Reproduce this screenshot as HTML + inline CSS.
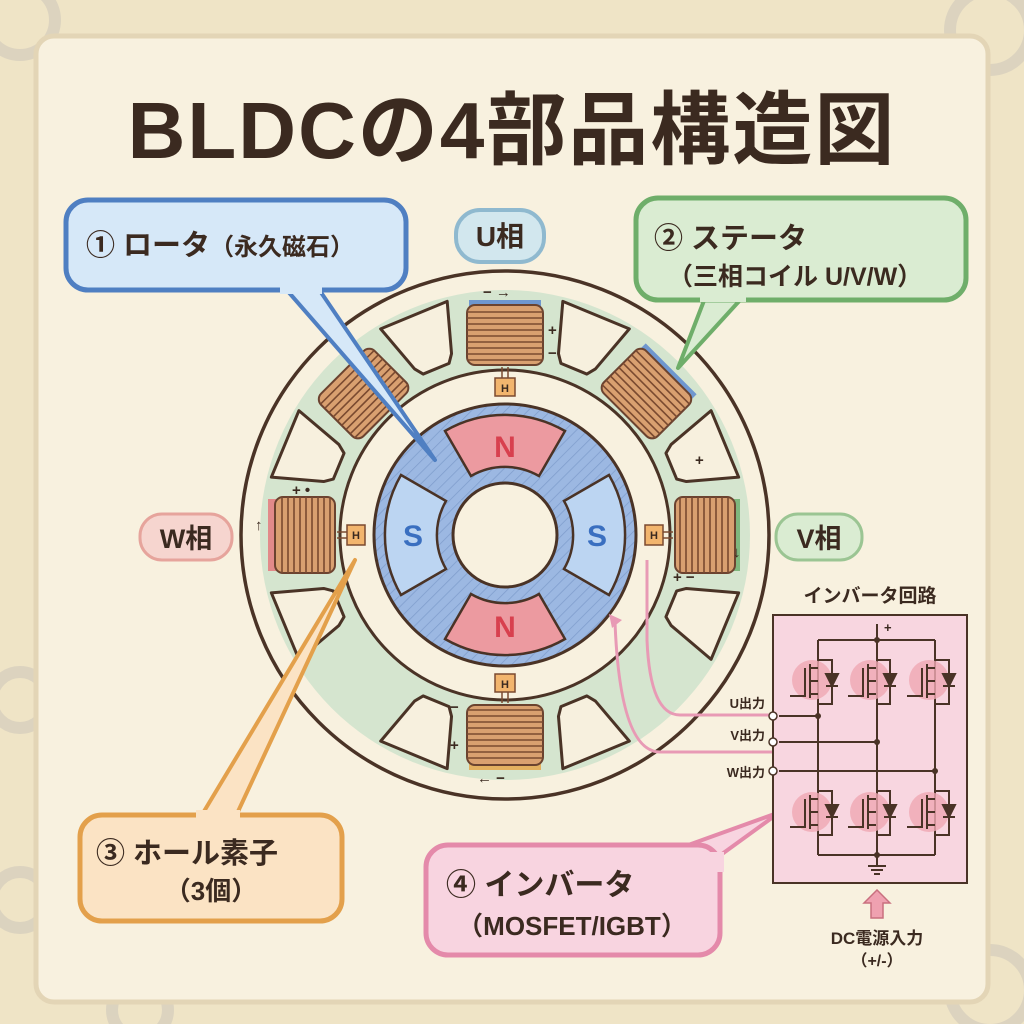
<!DOCTYPE html>
<html><head><meta charset="utf-8"><style>
html,body{margin:0;padding:0;background:#f3ead3}
svg{display:block}
text{font-family:"Liberation Sans","Noto Sans CJK JP",sans-serif;font-weight:bold;fill:#3b2a20}
</style></head><body>
<svg width="1024" height="1024" viewBox="0 0 1024 1024" xmlns="http://www.w3.org/2000/svg">
<defs>
<pattern id="hatch" width="8" height="8" patternUnits="userSpaceOnUse" patternTransform="rotate(45)">
<rect width="8" height="8" fill="#9cb8e2"/><line x1="0" y1="0" x2="0" y2="8" stroke="#7f9dcc" stroke-width="1.5"/></pattern>
<g id="slot"><path d="M-14,-180 L-20,-188 L-36,-238 L36,-238 L20,-188 L14,-180 Z" fill="#f7f0de" stroke="#4a3326" stroke-width="3" stroke-linejoin="round"/></g>
<g id="coil">
<rect x="-38" y="-230" width="76" height="60" rx="8" fill="#d9a070" stroke="#6b4330" stroke-width="2"/>
<g stroke="#7a4a30" stroke-width="1.6">
<line x1="-38" y1="-223" x2="38" y2="-223"/><line x1="-38" y1="-217" x2="38" y2="-217"/><line x1="-38" y1="-211" x2="38" y2="-211"/><line x1="-38" y1="-205" x2="38" y2="-205"/><line x1="-38" y1="-199" x2="38" y2="-199"/><line x1="-38" y1="-193" x2="38" y2="-193"/><line x1="-38" y1="-187" x2="38" y2="-187"/><line x1="-38" y1="-181" x2="38" y2="-181"/><line x1="-38" y1="-175" x2="38" y2="-175"/></g>
</g>
</defs>
<rect width="1024" height="1024" fill="#efe4c6"/>
<g fill="none" stroke="#cfc8bb" stroke-width="12" opacity="0.6">
<circle cx="20" cy="20" r="35"/><circle cx="990" cy="30" r="40"/><circle cx="990" cy="990" r="40"/><circle cx="140" cy="1010" r="28"/><circle cx="20" cy="700" r="28"/><circle cx="20" cy="900" r="28"/>
</g>
<rect x="36" y="36" width="952" height="966" rx="18" fill="#f8f1df" stroke="#e3d5b6" stroke-width="5"/>
<text x="512" y="158" font-size="80" text-anchor="middle" letter-spacing="2">BLDCの4部品構造図</text>

<g transform="translate(505,535)">
<circle r="264" fill="#f8f1df" stroke="#4a3326" stroke-width="3.5"/>
<circle r="245" fill="#d5e5cf"/>
<circle r="165" fill="#f8f1df" stroke="#4a3326" stroke-width="3"/>
<g>
<use href="#slot" transform="rotate(22.5)"/><use href="#slot" transform="rotate(67.5)"/><use href="#slot" transform="rotate(112.5)"/><use href="#slot" transform="rotate(157.5)"/>
<use href="#slot" transform="rotate(202.5)"/><use href="#slot" transform="rotate(247.5)"/><use href="#slot" transform="rotate(292.5)"/><use href="#slot" transform="rotate(337.5)"/>
</g>
<path d="M-36,-231 L36,-231" stroke="#6f97cf" stroke-width="8"/>
<path d="M-36,-231 L36,-231" stroke="#6f97cf" stroke-width="8" transform="rotate(45)"/>
<path d="M-36,-231 L36,-231" stroke="#7fb77e" stroke-width="8" transform="rotate(90)"/>
<path d="M-36,-231 L36,-231" stroke="#e3b060" stroke-width="8" transform="rotate(180)"/>
<path d="M-36,-231 L36,-231" stroke="#e28a8a" stroke-width="12" transform="rotate(270)"/>
<use href="#coil"/><use href="#coil" transform="rotate(45)"/><use href="#coil" transform="rotate(90)"/>
<use href="#coil" transform="rotate(180)"/><use href="#coil" transform="rotate(270)"/><use href="#coil" transform="rotate(315)"/>
<g fill="#f2b56e" stroke="#7a4a30" stroke-width="1.5">
<rect x="-10" y="-157" width="20" height="18"/><rect x="-10" y="139" width="20" height="18"/>
<rect x="-158" y="-10" width="18" height="20"/><rect x="140" y="-10" width="18" height="20"/></g>
<g stroke="#7a4a30" stroke-width="1.5"><line x1="-3" y1="-157" x2="-3" y2="-168"/><line x1="3" y1="-157" x2="3" y2="-168"/><line x1="-3" y1="157" x2="-3" y2="168"/><line x1="3" y1="157" x2="3" y2="168"/>
<line x1="-158" y1="-3" x2="-168" y2="-3"/><line x1="-158" y1="3" x2="-168" y2="3"/><line x1="158" y1="-3" x2="168" y2="-3"/><line x1="158" y1="3" x2="168" y2="3"/></g>
<g font-size="11"><text x="0" y="-143" text-anchor="middle">H</text><text x="0" y="153" text-anchor="middle">H</text>
<text x="-149" y="4" text-anchor="middle">H</text><text x="149" y="4" text-anchor="middle">H</text></g>
<circle r="131" fill="url(#hatch)" stroke="#4a3326" stroke-width="3"/>
<g stroke="#4a3326" stroke-width="2.5">
<path d="M-60,-104 A120,120 0 0 1 60,-104 L34,-59 A68,68 0 0 0 -34,-59 Z" fill="#ec9aa0"/>
<path d="M-60,104 A120,120 0 0 0 60,104 L34,59 A68,68 0 0 1 -34,59 Z" fill="#ec9aa0"/>
<path d="M-104,-60 A120,120 0 0 0 -104,60 L-59,34 A68,68 0 0 1 -59,-34 Z" fill="#bcd5f2"/>
<path d="M104,-60 A120,120 0 0 1 104,60 L59,34 A68,68 0 0 0 59,-34 Z" fill="#bcd5f2"/>
</g>
<circle r="52" fill="#f8f1df" stroke="#4a3326" stroke-width="3"/>
<g font-size="30"><text x="0" y="-78" text-anchor="middle" style="fill:#d8404e">N</text><text x="0" y="102" text-anchor="middle" style="fill:#d8404e">N</text>
<text x="-92" y="11" text-anchor="middle" style="fill:#3a6fc0">S</text><text x="92" y="11" text-anchor="middle" style="fill:#3a6fc0">S</text></g>
<g font-size="15"><text x="43" y="-200">+</text><text x="43" y="-177">−</text><text x="-22" y="-238">− →</text><text x="-28" y="248">← −</text>
<text x="-55" y="177">−</text><text x="-55" y="215">+</text><text x="-213" y="-40">+ •</text><text x="-250" y="-5">↑</text>
<text x="168" y="47">+ −</text><text x="190" y="-70">+</text><text x="228" y="22">↓</text></g>
</g>

<path d="M285,288 L435,460 L318,288 Z" fill="#d6e8f8" stroke="#4f7fc2" stroke-width="4" stroke-linejoin="round"/>
<rect x="66" y="200" width="340" height="90" rx="22" fill="#d6e8f8" stroke="#4f7fc2" stroke-width="5"/>
<rect x="280" y="284" width="42" height="10" fill="#d6e8f8"/>
<text x="86" y="255" font-size="29">① ロータ<tspan font-size="24">（永久磁石）</tspan></text>
<rect x="456" y="210" width="88" height="52" rx="24" fill="#d2e7ee" stroke="#8fb9cf" stroke-width="4"/>
<text x="500" y="246" font-size="28" text-anchor="middle">U相</text>
<path d="M705,298 L678,368 L742,298 Z" fill="#daecd2" stroke="#6fae6a" stroke-width="4" stroke-linejoin="round"/>
<rect x="636" y="198" width="330" height="102" rx="22" fill="#daecd2" stroke="#6fae6a" stroke-width="5"/>
<rect x="700" y="292" width="46" height="10" fill="#daecd2"/>
<text x="654" y="248" font-size="29">② ステータ</text>
<text x="668" y="285" font-size="25">（三相コイル U/V/W）</text>
<rect x="140" y="514" width="92" height="46" rx="22" fill="#f6d5cf" stroke="#e6a49c" stroke-width="3"/>
<text x="186" y="548" font-size="27" text-anchor="middle">W相</text>
<rect x="776" y="514" width="86" height="46" rx="22" fill="#daecd2" stroke="#9bc593" stroke-width="3"/>
<text x="819" y="548" font-size="27" text-anchor="middle">V相</text>
<path d="M200,818 L355,560 L235,818 Z" fill="#fbe3c4" stroke="#e3a04b" stroke-width="4" stroke-linejoin="round"/>
<rect x="80" y="815" width="262" height="106" rx="22" fill="#fbe3c4" stroke="#e3a04b" stroke-width="5"/>
<rect x="196" y="810" width="44" height="12" fill="#fbe3c4"/>
<text x="96" y="863" font-size="29">③ ホール素子</text>
<text x="211" y="900" font-size="26" text-anchor="middle">（3個）</text>
<path d="M680,848 L780,812 L700,870 Z" fill="#f8d4e0" stroke="#e48aaa" stroke-width="4" stroke-linejoin="round"/>
<rect x="426" y="845" width="294" height="110" rx="22" fill="#f8d4e0" stroke="#e48aaa" stroke-width="5"/>
<rect x="690" y="852" width="34" height="20" fill="#f8d4e0"/>
<text x="446" y="895" font-size="30">④ インバータ</text>
<text x="572" y="935" font-size="26" text-anchor="middle">（MOSFET/IGBT）</text>

<path d="M647,560 L647,640 Q650,715 680,715 L775,715" fill="none" stroke="#e89ab5" stroke-width="3"/>
<path d="M615,622 Q620,752 660,752 L775,752" fill="none" stroke="#e89ab5" stroke-width="3"/>
<path d="M609,614 L622,620 L612,628 Z" fill="#e89ab5"/>

<text x="870" y="602" font-size="19" text-anchor="middle">インバータ回路</text>
<rect x="773" y="615" width="194" height="268" fill="#f8d6e0" stroke="#4a3326" stroke-width="2"/>
<g stroke="#4a3326" stroke-width="2" fill="none">
<line x1="877" y1="624" x2="877" y2="640"/>
<line x1="818" y1="640" x2="935" y2="640"/>
<line x1="818" y1="640" x2="818" y2="855"/><line x1="877" y1="640" x2="877" y2="855"/><line x1="935" y1="640" x2="935" y2="855"/>
<line x1="818" y1="855" x2="935" y2="855"/><line x1="877" y1="855" x2="877" y2="866"/>
<line x1="868" y1="866" x2="886" y2="866"/><line x1="871" y1="870" x2="883" y2="870"/><line x1="874" y1="874" x2="880" y2="874"/>
<line x1="779" y1="716" x2="818" y2="716"/><line x1="779" y1="742" x2="877" y2="742"/><line x1="779" y1="771" x2="935" y2="771"/>
</g>
<g fill="#f0a9b4" opacity="0.8">
<circle cx="812" cy="680" r="20"/><circle cx="870" cy="680" r="20"/><circle cx="929" cy="680" r="20"/>
<circle cx="812" cy="812" r="20"/><circle cx="870" cy="812" r="20"/><circle cx="929" cy="812" r="20"/></g>
<g stroke="#4a3326" stroke-width="2" fill="none">
<g id="fet"><path d="M790,696 L805,696 L805,668 M810,664 L810,698 M810,668 L818,668 M810,694 L818,694 M810,681 L818,681 M818,660 L832,660 L832,704 L818,704"/><path d="M826,686 L838,686 M826,674 L838,674 L832,686 Z" fill="#4a3326"/></g>
<use href="#fet" x="58"/><use href="#fet" x="117"/>
<use href="#fet" y="131"/><use href="#fet" x="58" y="131"/><use href="#fet" x="117" y="131"/>
</g>
<g fill="#4a3326"><circle cx="877" cy="640" r="3"/><circle cx="818" cy="716" r="3"/><circle cx="877" cy="742" r="3"/><circle cx="935" cy="771" r="3"/><circle cx="877" cy="855" r="3"/></g>
<g fill="#fff" stroke="#4a3326" stroke-width="1.5"><circle cx="773" cy="716" r="4"/><circle cx="773" cy="742" r="4"/><circle cx="773" cy="771" r="4"/></g>
<text x="884" y="632" font-size="13">+</text>
<g font-size="13" text-anchor="end"><text x="765" y="708">U出力</text><text x="765" y="740">V出力</text><text x="765" y="777">W出力</text></g>
<path d="M871,918 L871,903 L864,903 L877,890 L890,903 L883,903 L883,918 Z" fill="#efa1b0" stroke="#c9707f" stroke-width="1.5"/>
<text x="877" y="944" font-size="17" text-anchor="middle">DC電源入力</text>
<text x="877" y="966" font-size="16" text-anchor="middle">（+/-）</text>
</svg>
</body></html>
